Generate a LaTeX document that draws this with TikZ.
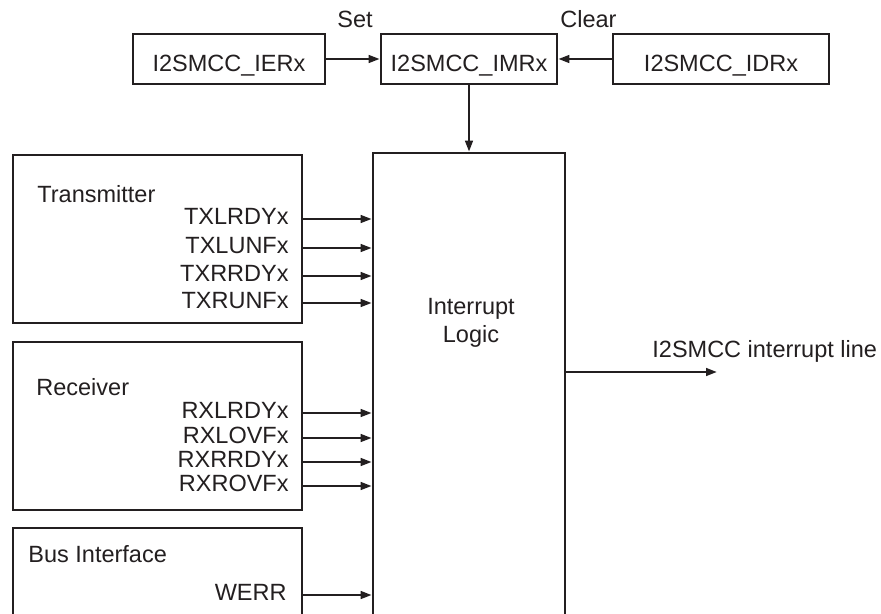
\documentclass[tikz,border=0pt]{standalone}
\usepackage{fontspec}
\setmainfont{Liberation Sans}
\usetikzlibrary{arrows.meta}
\definecolor{ink}{HTML}{231F20}
\tikzset{
	reg/.style={draw=ink, line width=1.3pt, minimum height=25pt, inner sep=0pt, text height=13pt, text depth=0pt},
	block/.style={draw=ink, line width=1.3pt, inner sep=0pt},
	sig/.style={anchor=mid east, inner sep=0pt},
	title/.style={anchor=base west, inner sep=0pt},
	sigarrow/.style={draw=ink, line width=1.2pt, -{Triangle[length=5.5pt,width=3.8pt]}}
}
\def\sigx{289}

\begin{document}
\begin{tikzpicture}[x=0.5pt, y=-0.5pt, font=\fontsize{11.75}{14}\selectfont, text=ink]
		\useasboundingbox (0,0) rectangle (881,614);
		\clip (0,0) rectangle (881,614);
		\node[reg, minimum width=96pt] (ier) at (229,59) {I2SMCC\_IERx};
		\node[reg, minimum width=88pt] (imr) at (469,59) {I2SMCC\_IMRx};
		\node[reg, minimum width=108pt] (idr) at (721,59) {I2SMCC\_IDRx};
		\node[title] (set) at (337,28) {Set};
		\node[title] (clear) at (560,28) {Clear};
		\node[block, minimum width=96pt, minimum height=273.5pt] (logic) at (469,426.5) {};
		\node[align=center, inner sep=0pt] (logictext) at (471,323) {Interrupt\\Logic};
		\node[block, minimum width=144.5pt, minimum height=84pt] (tx) at (157.5,239) {};
		\node[block, minimum width=144.5pt, minimum height=84pt] (rx) at (157.5,426) {};
		\node[block, minimum width=144.5pt, minimum height=86pt] (bus) at (157.5,614) {};
		\node[title] (txtitle) at (37,203) {Transmitter};
		\node[title] (rxtitle) at (36,395) {Receiver};
		\node[title] (bustitle) at (28,562) {Bus Interface};
		\draw[sigarrow] (ier) -- (imr);
		\draw[sigarrow] (idr) -- (imr);
		\draw[sigarrow] (imr) -- (logic);
		\foreach \name/\y [count=\i] in {TXLRDYx/219, TXLUNFx/248, TXRRDYx/276, TXRUNFx/303} {
			\node[sig] (tx\i) at (\sigx,\y) {\name};
			\draw[sigarrow] (tx.east |- tx\i.mid east) -- (logic.west |- tx\i.mid east);
		}
		\foreach \name/\y [count=\i] in {RXLRDYx/413, RXLOVFx/438, RXRRDYx/462, RXROVFx/486} {
			\node[sig] (rx\i) at (\sigx,\y) {\name};
			\draw[sigarrow] (rx.east |- rx\i.mid east) -- (logic.west |- rx\i.mid east);
		}
		\node[sig] (werr) at (287,595) {WERR};
		\draw[sigarrow] (bus.east |- werr.mid east) -- (logic.west |- werr.mid east);
		\coordinate (irq) at (717,372);
		\draw[sigarrow] (logic.east |- irq) -- (irq);
		\node[title] (irqtext) at (652,357) {I2SMCC interrupt line};
	\end{tikzpicture}
\end{document}
